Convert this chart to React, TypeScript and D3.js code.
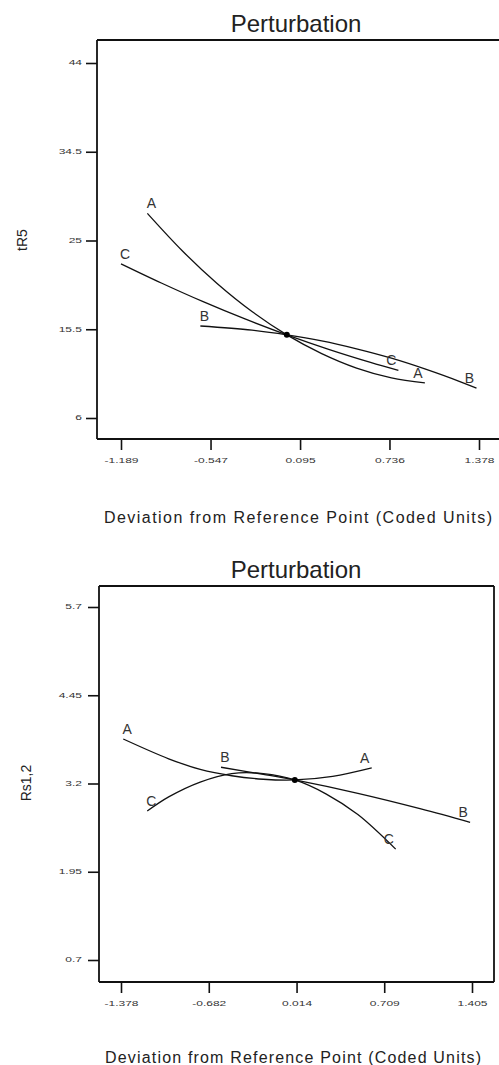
import React, { useEffect, useRef } from 'react';
import * as d3 from 'd3';

// tR5 panel
const tr5TicksX = [-1.189, -0.547, 0.095, 0.736, 1.378];
const tr5TicksY = [6, 15.5, 25, 34.5, 44];
const tr5A_x = [-1.0, -0.75, -0.5, -0.25, 0, 0.25, 0.5, 0.75, 0.99];
const tr5A_y = [27.9, 23.9, 20.4, 17.4, 14.9, 12.9, 11.35, 10.3, 9.75];
const tr5B_x = [-0.62, -0.25, 0, 0.25, 0.5, 0.75, 1.0, 1.25, 1.36];
const tr5B_y = [15.85, 15.4, 14.9, 14.25, 13.4, 12.4, 11.2, 9.85, 9.2];
const tr5C_x = [-1.189, -0.9, -0.6, -0.3, 0, 0.3, 0.6, 0.8];
const tr5C_y = [22.5, 20.45, 18.45, 16.6, 14.9, 13.35, 11.95, 11.1];
const tr5Ref = [0, 14.9];

// Rs1,2 panel
const rsTicksX = [-1.378, -0.682, 0.014, 0.709, 1.405];
const rsTicksY = [0.7, 1.95, 3.2, 4.45, 5.7];
const rsA_x = [-1.36, -1.0, -0.75, -0.5, -0.25, 0, 0.3, 0.61];
const rsA_y = [3.83, 3.55, 3.4, 3.31, 3.26, 3.25, 3.3, 3.42];
const rsB_x = [-0.585, -0.25, 0, 0.5, 1.0, 1.39];
const rsB_y = [3.43, 3.33, 3.25, 3.06, 2.84, 2.65];
const rsC_x = [-1.17, -1.0, -0.75, -0.5, -0.25, 0, 0.25, 0.5, 0.8];
const rsC_y = [2.81, 3.01, 3.22, 3.34, 3.34, 3.25, 3.05, 2.76, 2.27];
const rsRef = [0, 3.25];

const seriesNames = ['A', 'B', 'C'];

const FONT = "'Liberation Sans', Arial, sans-serif";

const App: React.FC = () => {
  const svgRef = useRef<SVGSVGElement>(null);

  useEffect(() => {
    document.body.style.margin = '0';
    const svg = d3.select(svgRef.current);
    svg.selectAll('*').remove();

    const drawPanel = (opts: any) => {
      const { box, xDom, xRange, yDom, yRange, ticksX, ticksY, series, ref, yLabel, yLabelPos, titleY, axisTitleY, axisTitleX, axisTitleW, openRight, yLabelDx } = opts;
      const g = svg.append('g');
      const x = d3.scaleLinear().domain(xDom).range(xRange);
      const y = d3.scaleLinear().domain(yDom).range(yRange);

      // frame
      g.append('line').attr('x1', box.l).attr('x2', box.r).attr('y1', box.t).attr('y2', box.t)
        .attr('stroke', '#111').attr('stroke-width', 1.8);
      if (!openRight) {
        g.append('line').attr('x1', box.r).attr('x2', box.r).attr('y1', box.t).attr('y2', box.b)
          .attr('stroke', '#111').attr('stroke-width', 1.8);
      }

      const ax = g.append('g').attr('transform', `translate(0,${box.b})`)
        .call(d3.axisBottom(x).tickValues(ticksX).tickFormat((d: any) => String(d)).tickSize(11).tickSizeOuter(0));
      ax.select('.domain').remove();
      ax.append('line').attr('x1', box.l).attr('x2', box.r).attr('stroke', '#111').attr('stroke-width', 1.8);
      ax.selectAll('.tick line').attr('stroke', '#111').attr('stroke-width', 1.6);
      ax.selectAll('.tick text')
        .attr('y', 0).attr('dy', null)
        .attr('dominant-baseline', 'middle')
        .attr('transform', 'translate(0,22) scale(1,0.6)')
        .attr('font-size', 12).attr('font-family', FONT).attr('fill', '#333');

      const ay = g.append('g').attr('transform', `translate(${box.l},0)`)
        .call(d3.axisLeft(y).tickValues(ticksY).tickFormat((d: any) => String(d)).tickSize(11).tickSizeOuter(0));
      ay.select('.domain').remove();
      ay.append('line').attr('y1', box.t).attr('y2', box.b).attr('stroke', '#111').attr('stroke-width', 1.8);
      ay.selectAll('.tick line').attr('stroke', '#111').attr('stroke-width', 1.6);
      ay.selectAll('.tick text')
        .attr('x', yLabelDx).attr('dy', null)
        .attr('dominant-baseline', 'middle')
        .attr('transform', 'scale(1,0.6)')
        .attr('font-size', 12).attr('font-family', FONT).attr('fill', '#333');

      const line = d3.line<[number, number]>()
        .x((d) => x(d[0]))
        .y((d) => y(d[1]))
        .curve(d3.curveCatmullRom);

      series.forEach((s: any, i: number) => {
        const pts: [number, number][] = s.xs.map((v: number, k: number) => [v, s.ys[k]]);
        g.append('path').datum(pts).attr('d', line).attr('fill', 'none')
          .attr('stroke', '#111').attr('stroke-width', 1.3);
        const first = pts[0];
        const last = pts[pts.length - 1];
        g.append('text').attr('x', x(first[0]) + 4).attr('y', y(first[1]) - 5)
          .attr('text-anchor', 'middle').attr('font-size', 14).attr('font-family', FONT)
          .attr('fill', '#333').text(seriesNames[i]);
        g.append('text').attr('x', x(last[0]) - 7).attr('y', y(last[1]) - 5)
          .attr('text-anchor', 'middle').attr('font-size', 14).attr('font-family', FONT)
          .attr('fill', '#333').text(seriesNames[i]);
      });

      g.append('circle').attr('cx', x(ref[0])).attr('cy', y(ref[1])).attr('r', 3).attr('fill', '#000');

      g.append('text').attr('x', 296).attr('y', titleY).attr('text-anchor', 'middle')
        .attr('font-size', 24).attr('font-family', FONT).attr('fill', '#222').text('Perturbation');

      g.append('text').attr('x', axisTitleX).attr('y', axisTitleY)
        .attr('textLength', axisTitleW).attr('lengthAdjust', 'spacing')
        .attr('font-size', 16).attr('font-family', FONT).attr('fill', '#222')
        .text('Deviation from Reference Point (Coded Units)');

      g.append('text').attr('transform', `translate(${yLabelPos[0]},${yLabelPos[1]}) rotate(-90)`)
        .attr('text-anchor', 'middle').attr('font-size', 14).attr('font-family', FONT)
        .attr('fill', '#222').text(yLabel);
    };

    drawPanel({
      box: { l: 97, r: 503, t: 40, b: 439 },
      openRight: true,
      xDom: [tr5TicksX[0], tr5TicksX[4]], xRange: [121, 479],
      yDom: [tr5TicksY[0], tr5TicksY[4]], yRange: [418, 63],
      ticksX: tr5TicksX, ticksY: tr5TicksY,
      series: [
        { xs: tr5A_x, ys: tr5A_y },
        { xs: tr5B_x, ys: tr5B_y },
        { xs: tr5C_x, ys: tr5C_y },
      ],
      ref: tr5Ref,
      yLabel: 'tR5', yLabelPos: [27, 240], yLabelDx: -15,
      titleY: 32, axisTitleY: 523, axisTitleX: 104, axisTitleW: 388,
    });

    drawPanel({
      box: { l: 99, r: 494, t: 586, b: 982 },
      openRight: false,
      xDom: [rsTicksX[0], rsTicksX[4]], xRange: [121, 472],
      yDom: [rsTicksY[0], rsTicksY[4]], yRange: [960, 607],
      ticksX: rsTicksX, ticksY: rsTicksY,
      series: [
        { xs: rsA_x, ys: rsA_y },
        { xs: rsB_x, ys: rsB_y },
        { xs: rsC_x, ys: rsC_y },
      ],
      ref: rsRef,
      yLabel: 'Rs1,2', yLabelPos: [31, 783], yLabelDx: -17,
      titleY: 578, axisTitleY: 1063, axisTitleX: 105, axisTitleW: 376,
    });
  }, []);

  return <svg ref={svgRef} width={499} height={1065} style={{ display: 'block', background: '#fff' }}></svg>;
};

export default App;
